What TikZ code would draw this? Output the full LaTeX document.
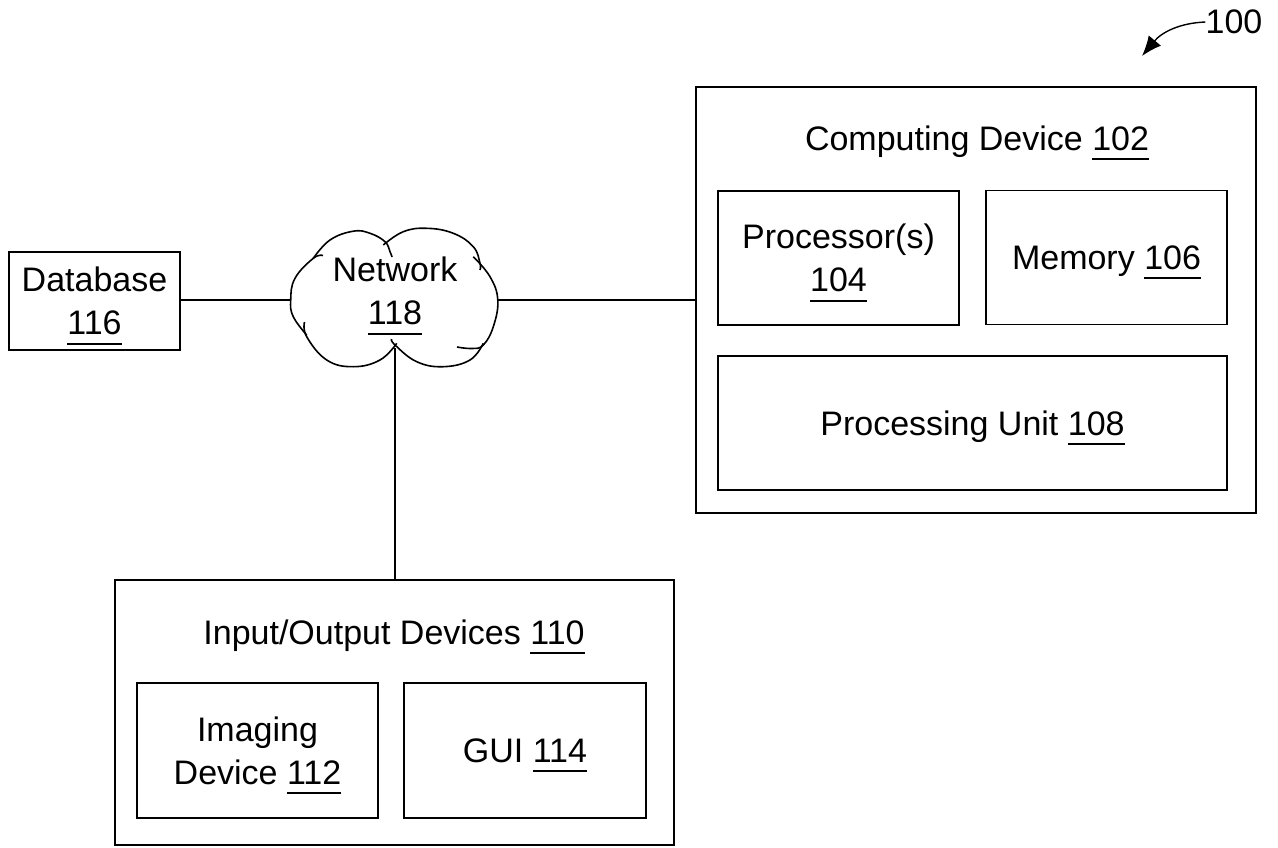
\documentclass[tikz,border=0pt]{standalone}
\usepackage{fontspec}
\setmainfont{Liberation Sans}
\usetikzlibrary{arrows.meta}
\newcommand{\ulnum}[1]{\setbox0\hbox{#1}\rlap{\rule[-10pt]{\wd0}{2pt}}\box0}
\begin{document}
\begin{tikzpicture}[x=1pt,y=-1pt,
  every node/.style={font=\fontsize{34}{43}\selectfont, inner sep=0pt, text depth=0pt},
  box/.style={draw, line width=1.6pt, align=center},
  conn/.style={line width=1.6pt},
  lobe/.style={line width=1.6pt, smooth, tension=0.7},
  lbl/.style={align=center}]
\useasboundingbox (0,0) rectangle (1278,848);

% Computing device
\node[box, minimum width=560pt, minimum height=426pt] (cd) at (976,300) {};
\node[lbl] (cdt) at (977,138) {Computing Device \ulnum{102}};
\node[box, minimum width=241pt, minimum height=134pt] (proc) at (838.5,258) {Processor(s)\\\ulnum{104}};
\node[box, minimum width=241pt, minimum height=134pt] (mem) at (1106.5,257.5) {Memory \ulnum{106}};
\node[box, minimum width=509pt, minimum height=134pt] (pu) at (972.5,423) {Processing Unit \ulnum{108}};

% I/O devices
\node[box, minimum width=559pt, minimum height=265pt] (io) at (394.5,712.5) {};
\node[lbl] (iot) at (394,632) {Input/Output Devices \ulnum{110}};
\node[box, minimum width=241pt, minimum height=135pt] (img) at (257.5,750.5) {Imaging\\Device \ulnum{112}};
\node[box, minimum width=242pt, minimum height=135pt] (gui) at (525,750.5) {GUI \ulnum{114}};

% Database
\node[box, minimum width=171pt, minimum height=98pt] (db) at (94.5,301) {Database\\\ulnum{116}};

% Network anchor node (invisible)
\node[minimum width=207pt, minimum height=140pt] (net) at (394.2,300) {};
\coordinate (netb) at (395,348);

% connectors
\draw[conn] (db.east |- 0,300) -- (net.west);
\draw[conn] (net.east) -- (cd.west |- net.east);
\draw[conn] (netb) -- (netb |- io.north);

% cloud lobes
\draw[lobe] plot coordinates {(306.7,335) (293.3,316.7) (290.7,300) (295,278.3) (313.3,258.3) (323,255.5)};
\draw[lobe] plot coordinates {(313.3,258.3) (330,240) (353.3,231.2) (370,233.3) (385,241.7) (390,251.7) (392,257)};
\draw[lobe] plot coordinates {(383.3,245) (403.3,231.7) (426.7,228.3) (453.3,233.3) (473.3,246.7) (480,263.3) (480,270)};
\draw[lobe] plot coordinates {(473.3,256.7) (490,276.7) (497.8,300) (493.3,326.7) (483.3,345) (472,348.5) (457,347)};
\draw[lobe] plot coordinates {(483.3,343.3) (470,360) (443.3,366.7) (416.7,361.7) (395,345) (391.5,339)};
\draw[lobe] plot coordinates {(396.7,343.3) (380,360) (353.3,366.7) (326.7,360) (306.7,336.7) (304.5,322)};
\node[lbl] (netlabel) at (395,291) {Network\\\ulnum{118}};

% reference label 100
\node (ref) at (1234,22) {100};
\draw[line width=1.4pt, -{Latex[length=20pt,width=16pt]}] (ref.west) .. controls (1180,23) and (1162,32) .. (1142,56);
\end{tikzpicture}
\end{document}
